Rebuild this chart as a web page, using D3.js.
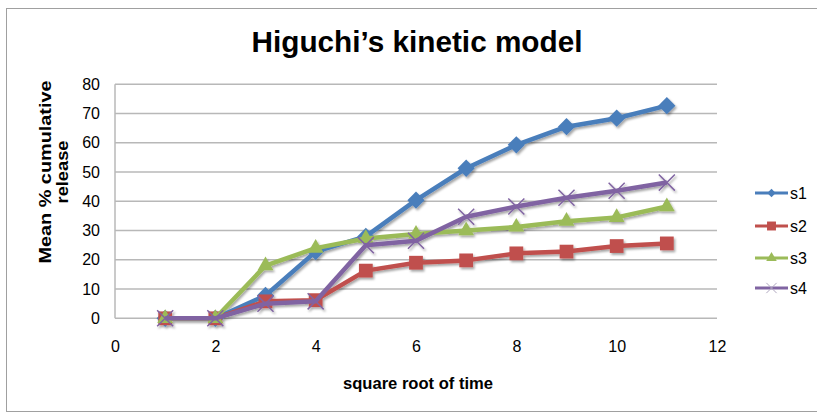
<!DOCTYPE html>
<meta charset="utf-8">
<head>
  <title>Higuchi's kinetic model</title>
</head>

<style>
body { margin: 0; background: #fff; }
text { font-family: "Liberation Sans", Arial, sans-serif; }
.grid line { stroke: #b8b8b8; stroke-width: 1.5; }
.tick text { font-size: 16px; fill: #000; }
</style>

<body>
  <svg width="817" height="415"></svg>

  <script src="https://cdnjs.cloudflare.com/ajax/libs/d3/7.8.5/d3.min.js"></script>
  <script>
var width = 817, height = 415

// data
var xs = [1, 2, 3, 4, 5, 6, 7, 8, 9, 10, 11]
var s1 = [0, 0, 7.8, 22.8, 28, 40.4, 51.3, 59.3, 65.5, 68.4, 72.7]
var s2 = [0, 0, 5.8, 6.2, 16.3, 19, 19.8, 22.2, 22.8, 24.7, 25.6]
var s3 = [0, 0, 18, 24, 27.3, 28.8, 30, 31.2, 33.2, 34.5, 38.2]
var s4 = [0, 0, 5, 5.8, 25, 26.5, 34.7, 38.2, 41.2, 43.6, 46.4]
var seriesNames = ['s1', 's2', 's3', 's4']
var xTicks = [0, 2, 4, 6, 8, 10, 12]
var yTicks = [0, 10, 20, 30, 40, 50, 60, 70, 80]

var colors = ['#4a7ebb', '#c0504d', '#9bbb59', '#8064a2']
var shapes = ['diamond', 'square', 'triangle', 'cross']
var allSeries = [s1, s2, s3, s4]

var svg = d3.select('svg')

// drop shadow like the office chart
var defs = svg.append('defs')
var f = defs.append('filter').attr('id', 'shadow')
  .attr('x', '-20%').attr('y', '-20%').attr('width', '140%').attr('height', '140%')
f.append('feDropShadow').attr('dx', 1.5).attr('dy', 2).attr('stdDeviation', 1.3)
  .attr('flood-color', '#000').attr('flood-opacity', 0.35)

// outer border
svg.append('rect')
  .attr('x', 6.5).attr('y', 8.5).attr('width', 820).attr('height', 403)
  .attr('fill', 'none').attr('stroke', '#a0a0a0').attr('stroke-width', 1)

var x = d3.scaleLinear().domain([0, 12]).range([115, 717])
var y = d3.scaleLinear().domain([0, 80]).range([318.3, 84.3])

// grid
svg.append('g').attr('class', 'grid')
  .selectAll('line').data(yTicks).join('line')
  .attr('x1', x(0)).attr('x2', x(12))
  .attr('y1', function(d) { return y(d) }).attr('y2', function(d) { return y(d) })

svg.append('line')
  .attr('x1', x(0)).attr('x2', x(0)).attr('y1', y(0)).attr('y2', y(80))
  .attr('stroke', '#b8b8b8').attr('stroke-width', 1.5)

// axes
var yAxis = svg.append('g')
  .attr('transform', 'translate(' + x(0) + ',0)')
  .call(d3.axisLeft(y).tickValues(yTicks).tickSize(0).tickPadding(15))
yAxis.select('.domain').remove()

var xAxis = svg.append('g')
  .attr('transform', 'translate(0,' + y(0) + ')')
  .call(d3.axisBottom(x).tickValues(xTicks).tickSize(0).tickPadding(22))
xAxis.select('.domain').remove()

// titles
svg.append('text')
  .attr('x', 417).attr('y', 52)
  .attr('text-anchor', 'middle')
  .attr('font-size', 30).attr('font-weight', 'bold')
  .attr('textLength', 331).attr('lengthAdjust', 'spacingAndGlyphs')
  .text('Higuchi\u2019s kinetic model')

svg.append('text')
  .attr('x', 418).attr('y', 389)
  .attr('text-anchor', 'middle')
  .attr('font-size', 16).attr('font-weight', 'bold')
  .attr('textLength', 150).attr('lengthAdjust', 'spacingAndGlyphs')
  .text('square root of time')

var yt = svg.append('text')
  .attr('transform', 'translate(51,172) rotate(-90)')
  .attr('text-anchor', 'middle')
  .attr('font-size', 16).attr('font-weight', 'bold')
yt.append('tspan').attr('x', 0).attr('dy', 0)
  .attr('textLength', 183).attr('lengthAdjust', 'spacingAndGlyphs').text('Mean % cumulative')
yt.append('tspan').attr('x', 0).attr('dy', 17)
  .attr('textLength', 63).attr('lengthAdjust', 'spacingAndGlyphs').text('release')

// marker symbols
function markerPath(shape) {
  if (shape === 'diamond') return d3.symbol(d3.symbolDiamond2, 190)()
  if (shape === 'square') return d3.symbol(d3.symbolSquare, 190)()
  if (shape === 'triangle') return d3.symbol(d3.symbolTriangle2, 180)()
  return d3.symbol(d3.symbolTimes, 170)()
}

var line = d3.line()
  .x(function(d, i) { return x(xs[i]) })
  .y(function(d) { return y(d) })

var g = svg.append('g').attr('filter', 'url(#shadow)')

allSeries.forEach(function(vals, k) {
  g.append('path')
    .datum(vals)
    .attr('fill', 'none')
    .attr('stroke', colors[k])
    .attr('stroke-width', 4.5)
    .attr('stroke-linejoin', 'round')
    .attr('d', line)

  g.selectAll('.m' + k).data(vals).join('path')
    .attr('class', 'm' + k)
    .attr('transform', function(d, i) { return 'translate(' + x(xs[i]) + ',' + y(d) + ')' })
    .attr('d', markerPath(shapes[k]))
    .attr('fill', shapes[k] === 'cross' ? 'none' : colors[k])
    .attr('stroke', colors[k])
    .attr('stroke-width', shapes[k] === 'cross' ? 1.5 : 0)
})

// legend
var legend = svg.append('g')
var legY = [193, 226, 258, 288]
seriesNames.forEach(function(name, k) {
  var row = legend.append('g').attr('transform', 'translate(755,' + legY[k] + ')')
  row.append('line').attr('x1', 0).attr('x2', 33)
    .attr('stroke', colors[k]).attr('stroke-width', 3)
  row.append('path')
    .attr('transform', 'translate(16.5,0)')
    .attr('d', shapes[k] === 'cross' ? d3.symbol(d3.symbolTimes, 70)() :
      d3.symbol(shapes[k] === 'diamond' ? d3.symbolDiamond2 :
        shapes[k] === 'square' ? d3.symbolSquare : d3.symbolTriangle2, shapes[k] === 'diamond' ? 45 : 80)())
    .attr('fill', shapes[k] === 'cross' ? 'none' : colors[k])
    .attr('stroke', shapes[k] === 'cross' ? '#b0a8c0' : 'none')
    .attr('stroke-width', 1)
  row.append('text').attr('x', 35).attr('y', 5.5)
    .attr('font-size', 16).text(name)
})
  </script>
</body>
</html>
